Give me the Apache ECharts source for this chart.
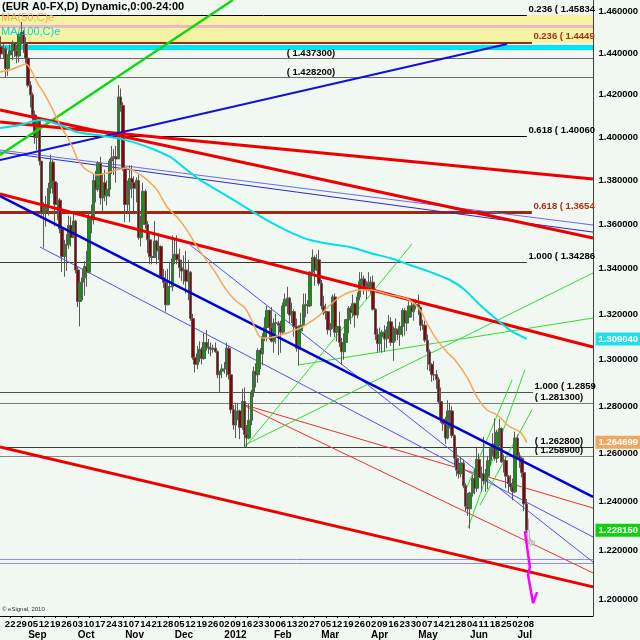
<!DOCTYPE html>
<html><head><meta charset="utf-8">
<script src="https://cdn.jsdelivr.net/npm/echarts/dist/echarts.min.js"></script>
<style>html,body{margin:0;padding:0;background:#F1F7F1}#c{width:640px;height:640px}</style>
</head><body><div id="c"></div><script>
// ---------- DATA ----------
const SLOTS = 263;               // trading-day slots on the time axis (first slot = 2011-08-16)
const Y_MIN = 1.19355, Y_MAX = 1.46561;
const yTicks = [1.20,1.22,1.24,1.26,1.28,1.30,1.32,1.34,1.36,1.38,1.40,1.42,1.44,1.46];
const weekLabels = ['22','29','05','12','19','26','03','10','17','24','31','07','14','21','28','05','12','19','26','02','09','16','23','30','06','13','20','27','05','12','19','26','02','09','16','23','30','07','14','21','28','04','11','18','25','02','08'];
const monthLabels = ['Sep','Oct','Nov','Dec','2012','Feb','Mar','Apr','May','Jun','Jul'];
// daily bars [open, high, low, close]
const bars = [
[1.4430,1.4480,1.4370,1.4395],[1.4395,1.4445,1.4375,1.4420],[1.4420,1.4430,1.4280,1.4325],[1.4325,1.4395,1.4290,1.4390],
[1.4390,1.4440,1.4330,1.4410],[1.4410,1.4460,1.4365,1.4445],[1.4445,1.4450,1.4380,1.4410],[1.4410,1.4440,1.4350,1.4385],[1.4385,1.4500,1.4355,1.4490],
[1.4490,1.4550,1.4440,1.4500],[1.4500,1.4510,1.4400,1.4445],[1.4445,1.4475,1.4350,1.4375],[1.4375,1.4400,1.4235,1.4245],[1.4245,1.4265,1.4140,1.4200],
[1.4200,1.4210,1.4055,1.4105],[1.4105,1.4125,1.3970,1.4000],[1.4000,1.4100,1.3940,1.4075],[1.4075,1.4080,1.3870,1.3890],[1.3890,1.3890,1.3640,1.3650],
[1.3650,1.3700,1.3495,1.3660],[1.3660,1.3730,1.3590,1.3690],[1.3690,1.3790,1.3640,1.3765],[1.3765,1.3920,1.3740,1.3885],[1.3885,1.3895,1.3740,1.3795],
[1.3795,1.3800,1.3590,1.3690],[1.3690,1.3790,1.3620,1.3710],[1.3710,1.3720,1.3560,1.3580],[1.3580,1.3600,1.3385,1.3455],[1.3455,1.3530,1.3365,1.3505],
[1.3505,1.3555,1.3390,1.3510],[1.3510,1.3640,1.3490,1.3595],[1.3595,1.3635,1.3500,1.3540],[1.3540,1.3660,1.3540,1.3615],[1.3615,1.3620,1.3380,1.3395],
[1.3395,1.3410,1.3230,1.3255],[1.3255,1.3350,1.3145,1.3340],[1.3340,1.3400,1.3260,1.3360],[1.3360,1.3435,1.3280,1.3410],[1.3410,1.3480,1.3320,1.3385],
[1.3385,1.3650,1.3380,1.3630],[1.3630,1.3690,1.3560,1.3620],[1.3620,1.3830,1.3600,1.3800],[1.3800,1.3845,1.3700,1.3760],[1.3760,1.3890,1.3750,1.3880],
[1.3880,1.3910,1.3690,1.3720],[1.3720,1.3830,1.3655,1.3790],[1.3790,1.3850,1.3705,1.3730],[1.3730,1.3800,1.3685,1.3760],[1.3760,1.3900,1.3725,1.3890],
[1.3890,1.3960,1.3830,1.3905],[1.3905,1.3945,1.3825,1.3910],[1.3910,1.3960,1.3790,1.3900],[1.3900,1.4247,1.3900,1.4190],[1.4190,1.4230,1.4120,1.4150],
[1.4150,1.4165,1.3845,1.3860],[1.3860,1.3870,1.3610,1.3690],[1.3690,1.3800,1.3655,1.3760],[1.3760,1.3870,1.3610,1.3810],[1.3810,1.3870,1.3720,1.3790],
[1.3790,1.3820,1.3660,1.3765],[1.3765,1.3815,1.3700,1.3800],[1.3800,1.3825,1.3530,1.3540],[1.3540,1.3640,1.3500,1.3600],[1.3600,1.3790,1.3580,1.3750],
[1.3750,1.3760,1.3580,1.3600],[1.3600,1.3615,1.3470,1.3530],[1.3530,1.3560,1.3420,1.3455],[1.3455,1.3530,1.3420,1.3450],[1.3450,1.3615,1.3450,1.3525],
[1.3525,1.3530,1.3420,1.3480],[1.3480,1.3560,1.3440,1.3500],[1.3500,1.3505,1.3355,1.3360],[1.3360,1.3400,1.3315,1.3340],[1.3340,1.3390,1.3210,1.3240],
[1.3240,1.3400,1.3240,1.3320],[1.3320,1.3425,1.3290,1.3320],[1.3320,1.3550,1.3300,1.3445],[1.3445,1.3530,1.3420,1.3465],[1.3465,1.3550,1.3420,1.3440],
[1.3440,1.3490,1.3360,1.3405],[1.3405,1.3440,1.3345,1.3390],[1.3390,1.3460,1.3330,1.3395],[1.3395,1.3480,1.3290,1.3345],[1.3345,1.3440,1.3260,1.3385],
[1.3385,1.3390,1.3170,1.3180],[1.3180,1.3200,1.3000,1.3010],[1.3010,1.3030,1.2945,1.2980],[1.2980,1.3060,1.2960,1.3025],[1.3025,1.3080,1.2990,1.3045],
[1.3045,1.3055,1.2980,1.3005],[1.3005,1.3115,1.3000,1.3075],[1.3075,1.3130,1.3040,1.3055],[1.3055,1.3090,1.3025,1.3050],[1.3050,1.3075,1.3015,1.3045],
[1.3045,1.3065,1.3030,1.3050],[1.3050,1.3075,1.3030,1.3035],[1.3035,1.3040,1.2920,1.2935],[1.2935,1.2945,1.2860,1.2950],[1.2950,1.2980,1.2920,1.2960],
[1.2960,1.2990,1.2940,1.2960],[1.2960,1.3075,1.2925,1.3050],[1.3050,1.3060,1.2915,1.2935],[1.2935,1.2940,1.2770,1.2785],[1.2785,1.2805,1.2700,1.2720],
[1.2720,1.2815,1.2665,1.2765],[1.2765,1.2815,1.2740,1.2780],[1.2780,1.2785,1.2660,1.2710],[1.2710,1.2875,1.2700,1.2820],[1.2820,1.2880,1.2624,1.2680],
[1.2680,1.2720,1.2625,1.2665],[1.2665,1.2810,1.2660,1.2740],[1.2740,1.2870,1.2720,1.2860],[1.2860,1.2970,1.2840,1.2950],[1.2950,1.2985,1.2880,1.2935],
[1.2935,1.3050,1.2900,1.3040],[1.3040,1.3050,1.2960,1.3025],[1.3025,1.3115,1.2975,1.3100],[1.3100,1.3185,1.3080,1.3140],[1.3140,1.3235,1.3080,1.3215],
[1.3215,1.3220,1.3085,1.3140],[1.3140,1.3230,1.3075,1.3080],[1.3080,1.3180,1.3030,1.3160],[1.3160,1.3200,1.3070,1.3160],[1.3160,1.3170,1.3020,1.3150],
[1.3150,1.3170,1.3030,1.3120],[1.3120,1.3250,1.3110,1.3235],[1.3235,1.3290,1.3205,1.3265],[1.3265,1.3320,1.3200,1.3270],[1.3270,1.3275,1.3160,1.3195],
[1.3195,1.3250,1.3160,1.3210],[1.3210,1.3220,1.3100,1.3145],[1.3145,1.3180,1.3035,1.3050],[1.3050,1.3150,1.2975,1.3125],[1.3125,1.3205,1.3115,1.3150],
[1.3150,1.3290,1.3150,1.3240],[1.3240,1.3290,1.3185,1.3240],[1.3240,1.3260,1.3200,1.3235],[1.3235,1.3390,1.3230,1.3385],[1.3385,1.3486,1.3380,1.3450],
[1.3450,1.3460,1.3325,1.3395],[1.3395,1.3465,1.3390,1.3440],[1.3440,1.3485,1.3325,1.3335],[1.3335,1.3350,1.3220,1.3235],[1.3235,1.3280,1.3195,1.3205],
[1.3205,1.3245,1.3175,1.3210],[1.3210,1.3210,1.3110,1.3130],[1.3130,1.3160,1.3100,1.3140],[1.3140,1.3285,1.3135,1.3275],[1.3275,1.3290,1.3100,1.3120],
[1.3120,1.3160,1.3080,1.3145],[1.3145,1.3210,1.3055,1.3075],[1.3075,1.3095,1.2980,1.3035],[1.3035,1.3115,1.3000,1.3075],[1.3075,1.3170,1.3050,1.3175],
[1.3175,1.3235,1.3115,1.3225],[1.3225,1.3235,1.3155,1.3205],[1.3205,1.3285,1.3185,1.3245],[1.3245,1.3250,1.3140,1.3195],[1.3195,1.3295,1.3180,1.3275],
[1.3275,1.3385,1.3260,1.3345],[1.3345,1.3385,1.3325,1.3355],[1.3355,1.3370,1.3285,1.3320],[1.3320,1.3345,1.3265,1.3310],[1.3310,1.3385,1.3300,1.3340],
[1.3340,1.3365,1.3290,1.3340],[1.3340,1.3370,1.3215,1.3220],[1.3220,1.3225,1.3085,1.3110],[1.3110,1.3135,1.3030,1.3070],[1.3070,1.3140,1.3035,1.3100],
[1.3100,1.3130,1.3030,1.3120],[1.3120,1.3150,1.3035,1.3090],[1.3090,1.3145,1.3050,1.3130],[1.3130,1.3195,1.3090,1.3165],[1.3165,1.3185,1.3060,1.3075],
[1.3075,1.3145,1.2995,1.3135],[1.3135,1.3180,1.3080,1.3130],[1.3130,1.3135,1.3085,1.3110],[1.3110,1.3165,1.3060,1.3145],[1.3145,1.3225,1.3100,1.3215],
[1.3215,1.3225,1.3105,1.3160],[1.3160,1.3215,1.3125,1.3185],[1.3185,1.3255,1.3175,1.3235],[1.3235,1.3250,1.3185,1.3210],[1.3210,1.3250,1.3170,1.3240],
[1.3240,1.3265,1.3220,1.3240],[1.3240,1.3285,1.3195,1.3230],[1.3230,1.3230,1.3125,1.3150],[1.3150,1.3175,1.3130,1.3150],[1.3150,1.3170,1.3075,1.3085],
[1.3085,1.3110,1.2955,1.3035],[1.3035,1.3045,1.2950,1.2980],[1.2980,1.2985,1.2905,1.2935],[1.2935,1.2995,1.2910,1.2935],[1.2935,1.2955,1.2875,1.2915],
[1.2915,1.2925,1.2810,1.2820],[1.2820,1.2880,1.2730,1.2745],[1.2745,1.2760,1.2695,1.2725],[1.2725,1.2755,1.2640,1.2665],[1.2665,1.2825,1.2660,1.2780],
[1.2780,1.2815,1.2705,1.2780],[1.2780,1.2800,1.2665,1.2675],[1.2675,1.2680,1.2545,1.2580],[1.2580,1.2625,1.2505,1.2530],[1.2530,1.2580,1.2495,1.2515],
[1.2515,1.2585,1.2500,1.2560],[1.2560,1.2575,1.2455,1.2465],[1.2465,1.2475,1.2360,1.2380],[1.2380,1.2435,1.2340,1.2370],[1.2370,1.2440,1.2288,1.2435],
[1.2435,1.2510,1.2420,1.2495],[1.2495,1.2535,1.2430,1.2455],[1.2455,1.2625,1.2440,1.2575],[1.2575,1.2600,1.2490,1.2500],[1.2500,1.2545,1.2440,1.2515],
[1.2515,1.2670,1.2470,1.2485],[1.2485,1.2535,1.2440,1.2505],[1.2505,1.2590,1.2450,1.2570],[1.2570,1.2630,1.2550,1.2620],[1.2620,1.2685,1.2590,1.2640],
[1.2640,1.2748,1.2570,1.2580],[1.2580,1.2700,1.2560,1.2690],[1.2690,1.2745,1.2630,1.2705],[1.2705,1.2710,1.2560,1.2565],[1.2565,1.2595,1.2520,1.2570],
[1.2570,1.2585,1.2455,1.2505],[1.2505,1.2510,1.2440,1.2475],[1.2475,1.2510,1.2445,1.2460],[1.2460,1.2495,1.2405,1.2440],[1.2440,1.2692,1.2435,1.2665],
[1.2665,1.2680,1.2580,1.2590],[1.2590,1.2605,1.2540,1.2580],[1.2580,1.2585,1.2500,1.2520],[1.2520,1.2530,1.2360,1.2390],[1.2390,1.2410,1.2270,1.22815]
];
// projected (ghost) bars after the last real bar [open, high, low, close]
const ghostBars = [[1.2282,1.2330,1.2225,1.2240],[1.2240,1.2250,1.2215,1.2225],[1.2225,1.2240,1.2218,1.2235]];
// moving averages [slot, value]
const ma50 = [[-0.5,1.4309],[3.9,1.4318],[8.4,1.4337],[11.0,1.4347],[13.7,1.4309],[16.4,1.4251],[19.5,1.4199],[23.0,1.4128],[26.1,1.4058],[28.8,1.4011],[31.4,1.3960],[34.1,1.3895],[36.8,1.3858],[39.4,1.3840],[42.5,1.3826],[47.0,1.3835],[51.4,1.3849],[55.8,1.3858],[60.3,1.3835],[64.7,1.3803],[69.1,1.3757],[73.6,1.3679],[78.0,1.3633],[82.4,1.3574],[86.9,1.3498],[90.4,1.3448],[94.9,1.3386],[99.3,1.3314],[103.7,1.3261],[108.2,1.3226],[111.7,1.3160],[114.8,1.3099],[117.9,1.3094],[123.7,1.3107],[128.1,1.3121],[132.6,1.3138],[137.0,1.3164],[141.4,1.3195],[145.9,1.3239],[150.3,1.3275],[154.7,1.3297],[159.2,1.3306],[163.6,1.3306],[168.0,1.3297],[172.5,1.3284],[176.9,1.3275],[181.3,1.3261],[185.8,1.3217],[189.3,1.3151],[193.3,1.3086],[197.7,1.3033],[201.3,1.2999],[206.6,1.2925],[211.1,1.2839],[215.5,1.2784],[219.9,1.2763],[225.7,1.2712],[230.1,1.2691],[233.2,1.264699]];
const ma100 = [[-0.5,1.4044],[8.4,1.4058],[17.2,1.4081],[26.1,1.4058],[33.6,1.4025],[42.5,1.4011],[51.4,1.3997],[58.5,1.3978],[66.0,1.3951],[74.9,1.3909],[82.4,1.3849],[88.2,1.3803],[97.1,1.3748],[110.4,1.3665],[119.2,1.3611],[128.1,1.3565],[137.0,1.3529],[145.9,1.3511],[154.7,1.3498],[163.6,1.3471],[172.5,1.3448],[181.3,1.3417],[190.2,1.3386],[199.1,1.3350],[205.7,1.3306],[212.4,1.3239],[219.0,1.3182],[225.7,1.3129],[233.2,1.30904]];
const lastValues = {ma100: 1.30904, ma50: 1.264699, close: 1.22815};
// trend lines [slot, price] end points
const lines = {
  greenThick: [[-0.5,1.3918],[102.8,1.4656]],
  redA: [[-0.5,1.4072],[262.5,1.3807]],
  redB: [[-0.5,1.4129],[262.5,1.3538]],
  redC: [[-0.5,1.3738],[262.5,1.3055]],
  redD: [[-0.5,1.2627],[262.5,1.2052]],
  blueThick: [[-0.5,1.3729],[262.5,1.2419]],
  blueUp: [[-0.5,1.3895],[224.4,1.4443]],
  blueThin1: [[-0.5,1.3941],[262.5,1.3597]],
  blueThin2: [[-0.5,1.3932],[262.5,1.3565]],
  blueThin3: [[17.2,1.3498],[262.5,1.2254]],
  blueThin4: [[83.8,1.3507],[262.5,1.2152]],
  redThin1: [[108.2,1.2805],[262.5,1.2373]],
  redThin2: [[108.2,1.2801],[262.5,1.2108]],
  green1: [[108.2,1.2636],[262.5,1.3381]],
  green2: [[131.7,1.2977],[262.5,1.3182]],
  green3: [[108.2,1.2627],[182.2,1.3511]],
  greenJ1: [[207.1,1.2291],[232.3,1.2956]],
  greenJ2: [[205.7,1.2439],[226.6,1.2912]],
  greenJ3: [[212.4,1.2385],[235.4,1.2784]],
  projection: [[232.3,1.2278],[234.5,1.2132],[233.7,1.2100],[235.9,1.1987],[237.7,1.2031]]
};
// Fibonacci segments [price, end slot, text] and full-width levels [price, text, label slot]
const fibSegments = [[1.45834,233.2,'0.236 ( 1.458340)'],[1.4449,235.4,'0.236 ( 1.444900)'],[1.40060,233.2,'0.618 ( 1.400600)'],[1.3654,235.4,'0.618 ( 1.365400)'],[1.34286,233.2,'1.000 ( 1.342860)'],[1.2859,235.9,'1.000 ( 1.285900)']];
const levels = [[1.4373,'( 1.437300)',137.4],[1.4282,'( 1.428200)',137.4],[1.2813,'( 1.281300)',247.4],[1.2628,'( 1.262800)',247.4],[1.2589,'( 1.258900)',247.4]];
const plainLevels = {pink:1.4530, cyanBand:1.4428, lav1:1.2165, lav2:1.2149};
const yellowBand = [1.4449, 1.45834];

// ---------- STYLES ----------
const lineStyles = {
  greenThick:{color:'#10D810',width:2.5,z:4}, redA:{color:'#EE0000',width:3,z:4}, redB:{color:'#EE0000',width:3,z:4},
  redC:{color:'#EE0000',width:3,z:4}, redD:{color:'#EE0000',width:3,z:4}, blueThick:{color:'#0000D8',width:2.5,z:4},
  blueUp:{color:'#1010D8',width:2,z:4}, blueThin1:{color:'#6A6AF0',width:1,z:2}, blueThin2:{color:'#2828D8',width:1,z:2},
  blueThin3:{color:'#5050F0',width:1,z:2}, blueThin4:{color:'#5050F0',width:1,z:2}, redThin1:{color:'#F03030',width:1,z:2},
  redThin2:{color:'#F03030',width:1,z:2}, green1:{color:'#30E030',width:1,z:2}, green2:{color:'#30E030',width:1,z:2},
  green3:{color:'#30E030',width:1,z:2}, greenJ1:{color:'#30E030',width:1,z:2}, greenJ2:{color:'#30E030',width:1,z:2},
  greenJ3:{color:'#30E030',width:1,z:2}, projection:{color:'#FF00FF',width:2.5,z:6}
};
const FONT = 'Liberation Sans';

// ---------- CALENDAR ----------
const slotDates = [];
for (let d = Date.UTC(2011,7,16); slotDates.length < SLOTS; d += 86400000) {
  const dt = new Date(d), wd = dt.getUTCDay();
  if (wd !== 0 && wd !== 6) slotDates.push(dt);
}
const weekText = {}, monthText = {};
let wk = 0, mo = 0;
slotDates.forEach((dt, i) => {
  if (dt.getUTCDay() === 1 && wk < weekLabels.length) weekText[i] = weekLabels[wk++];
  if (i > 0 && dt.getUTCMonth() !== slotDates[i-1].getUTCMonth() && mo < monthLabels.length) monthText[i] = monthLabels[mo++];
});
const cats = slotDates.map((d, i) => String(i));

// ---------- SERIES ----------
const series = [];
const lvlLine = (p, style) => [{coord:[-0.5,p], lineStyle:style},{coord:[262.5,p]}];
const markLines = [
  lvlLine(plainLevels.pink, {color:'#F2B6C2',width:3,type:'solid'}),
  lvlLine(plainLevels.cyanBand, {color:'#00E6EE',width:5,type:'solid'}),
  lvlLine(plainLevels.lav1, {color:'#8C8CF8',width:1,type:'solid'}),
  lvlLine(plainLevels.lav2, {color:'#8C8CF8',width:1,type:'solid'}),
  lvlLine(levels[0][0], {color:'#6A6A6A',width:1,type:'solid'}),
  lvlLine(levels[1][0], {color:'#6A6A6A',width:1,type:'solid'}),
  lvlLine(levels[2][0], {color:'#7A7A7A',width:1,type:'solid'}),
  lvlLine(levels[3][0], {color:'#3A3A3A',width:1,type:'solid'}),
  lvlLine(levels[4][0], {color:'#8A8A8A',width:1,type:'solid'})
];
const fibStyle = [
  {color:'#000000',width:1},{color:'#A02810',width:2},{color:'#000000',width:1},
  {color:'#A02810',width:3},{color:'#3A3A3A',width:1},{color:'#505050',width:1}
];
fibSegments.forEach((f, i) => markLines.push([{coord:[-0.5,f[0]], lineStyle:Object.assign({type:'solid'}, fibStyle[i])},{coord:[f[1],f[0]]}]));

series.push({
  type:'line', xAxisIndex:2, yAxisIndex:0, data:[], silent:true, z:1,
  markArea:{silent:true, z:1, itemStyle:{color:'#F6F2A4'}, data:[[{yAxis:yellowBand[0]},{yAxis:yellowBand[1]}]]},
  markLine:{silent:true, symbol:'none', z:2, label:{show:false}, animation:false, data:markLines}
});
Object.keys(lines).filter(k => lineStyles[k].z === 2).forEach(k => series.push({
  type:'line', xAxisIndex:2, yAxisIndex:0, data:lines[k], symbol:'none', silent:true, z:2,
  lineStyle:{color:lineStyles[k].color, width:lineStyles[k].width}
}));
series.push({
  type:'candlestick', xAxisIndex:0, yAxisIndex:0, z:3, barWidth:3,
  data: bars.map(b => [b[0], b[3], b[2], b[1]]),
  itemStyle:{color:'#00A000', color0:'#900000', borderColor:'#5A5A5A', borderColor0:'#5A5A5A', borderWidth:1}
});
series.push({
  type:'candlestick', xAxisIndex:0, yAxisIndex:0, z:3, barWidth:3,
  data: new Array(bars.length).fill('-').concat(ghostBars.map(b => [b[0], b[3], b[2], b[1]])),
  itemStyle:{color:'#E4E8E4', color0:'#E4E8E4', borderColor:'#B8B8B8', borderColor0:'#B8B8B8', borderWidth:1}
});
Object.keys(lines).filter(k => lineStyles[k].z !== 2).forEach(k => series.push({
  type:'line', xAxisIndex:2, yAxisIndex:0, data:lines[k], symbol:'none', silent:true, z:lineStyles[k].z,
  lineStyle:{color:lineStyles[k].color, width:lineStyles[k].width}
}));
series.push({type:'line', xAxisIndex:2, yAxisIndex:0, data:ma50, symbol:'none', smooth:0.3, z:5, lineStyle:{color:'#F4A858', width:1.5}});
series.push({type:'line', xAxisIndex:2, yAxisIndex:0, data:ma100, symbol:'none', smooth:0.3, z:5, lineStyle:{color:'#00E0E8', width:2}});

// labels
const pt = (coord, label) => ({coord, symbol:'rect', symbolSize:1, itemStyle:{color:'rgba(0,0,0,0)'}, label:Object.assign({show:true, fontFamily:FONT, fontWeight:'bold', fontSize:9.5, color:'#000'}, label)});
const marks = [];
yTicks.forEach(v => marks.push(pt([262.5, v], {position:'right', distance:5, formatter:v.toFixed(6)})));
const valueBox = (v, bg) => pt([262.5, v], {position:'right', distance:2, formatter:v.toFixed(6), color:'#FFFFFF', backgroundColor:bg, padding:[2,3,1,3]});
marks.push(valueBox(lastValues.ma100, '#22E0E8'));
marks.push(valueBox(lastValues.ma50, '#F0A860'));
marks.push(valueBox(lastValues.close, '#10D010'));
const fibColors = ['#000','#A83010','#000','#A83010','#000','#000'];
const fibWidths = [70,68,70,68,70,68];
fibSegments.forEach((f, i) => marks.push(pt([f[1], f[0]], {position:'right', distance:1, offset:[0,-6], formatter:f[2], color:fibColors[i], width:fibWidths[i], overflow:'truncate', ellipsis:''})));
levels.forEach(l => marks.push(pt([l[2], l[0]], {position:'top', distance:0, formatter:l[1]})));
series.push({type:'line', xAxisIndex:2, yAxisIndex:0, data:[], silent:true, z:8,
  markPoint:{silent:true, z:8, animation:false, data:marks}});

const chart = echarts.init(document.getElementById('c'), null, {renderer:'canvas'});
chart.setOption({
  animation:false,
  backgroundColor:'#F1F7F1',
  grid:{left:0, right:47, top:0, bottom:24, containLabel:false, outerBoundsMode:'none'},
  xAxis:[
    {type:'category', data:cats, position:'bottom', boundaryGap:true,
     axisLine:{onZero:false, lineStyle:{color:'#000', width:1}},
     axisTick:{show:true, alignWithLabel:true, length:2, interval:(i)=> (i in weekText), lineStyle:{color:'#000'}},
     axisLabel:{interval:(i)=> (i in weekText), formatter:(v,i)=> weekText[i] || '', margin:3, fontFamily:FONT, fontWeight:'bold', fontSize:9.5, color:'#000'},
     splitLine:{show:false}},
    {type:'category', data:cats, position:'bottom', boundaryGap:true,
     axisLine:{show:false, onZero:false}, axisTick:{show:false},
     axisLabel:{interval:(i)=> (i in monthText), formatter:(v,i)=> monthText[i] || '', align:'left', margin:14, fontFamily:FONT, fontWeight:'bold', fontSize:10, color:'#000'},
     splitLine:{show:false}},
    {type:'value', min:-0.5, max:SLOTS-0.5, show:false}
  ],
  yAxis:[{type:'log', logBase:10, min:Y_MIN, max:Y_MAX, position:'right',
    axisLine:{show:true, onZero:false, lineStyle:{color:'#404040'}}, axisTick:{show:false}, axisLabel:{show:false}, splitLine:{show:false}}],
  graphic:[
    {type:'text', left:2, top:1, z:100, style:{text:'(EUR A0-FX,D) Dynamic,0:00-24:00', font:'bold 11px "Liberation Sans"', fill:'#000'}},
    {type:'text', left:1, top:12, z:100, style:{text:'MA(50,C)e', font:'11px "Liberation Sans"', fill:'#F4A858'}},
    {type:'text', left:1, top:26, z:100, style:{text:'MA(100,C)e', font:'11px "Liberation Sans"', fill:'#00D8E0'}},
    {type:'text', left:2, top:606, z:100, style:{text:'\u00A9 eSignal, 2010', font:'6px "Liberation Sans"', fill:'#333'}}
  ],
  series
});
</script></body></html>
